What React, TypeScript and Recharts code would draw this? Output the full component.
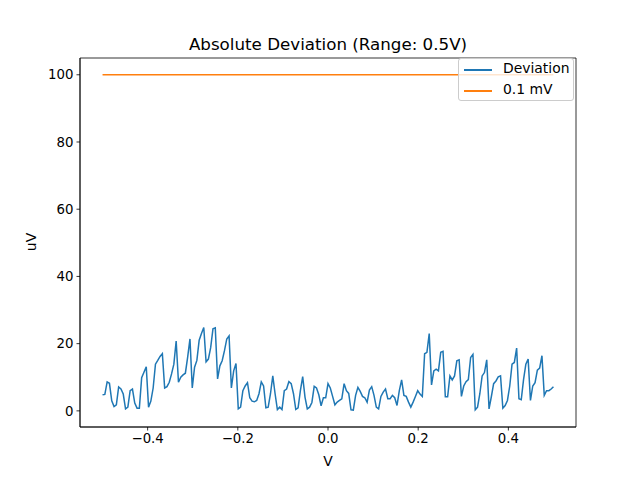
import { LineChart, Line, XAxis, YAxis, ReferenceArea } from "recharts";

document.body.style.margin = "0";

// deviation in uV, read left to right from -0.5 V to 0.5 V
const deviation = [
  4.8, 4.9, 8.6, 8.2, 3.0, 1.3, 1.8, 7.1, 6.5, 5.0,
  0.6, 1.1, 6.0, 6.5, 2.3, 0.8, 0.8, 9.9, 11.5, 13.1,
  1.1, 2.9, 6.8, 13.9, 15.0, 16.2, 17.0, 6.8, 7.2, 8.5,
  11.0, 13.9, 20.8, 8.5, 10.0, 10.7, 11.2, 16.0, 21.4, 6.8,
  13.0, 15.0, 21.0, 23.0, 24.8,
  14.6, 15.4, 18.8, 24.4, 24.7, 9.5, 13.4, 14.9, 17.9, 21.4,
  22.3, 6.8, 11.9, 14.1, 0.6, 1.1, 6.0, 7.4, 8.4, 3.9,
  2.9, 2.7, 3.1, 5.1, 8.6, 7.4, 0.9, 1.1, 5.1, 10.4,
  5.1, 0.4, 1.1, 0.4, 6.0, 6.5, 8.7, 8.1, 5.1, 0.4,
  0.9, 6.0, 10.2, 4.1, 0.6, 1.1,
  2.5, 7.3, 6.8, 4.8, 1.5, 3.9, 3.9, 8.1, 6.8, 4.3,
  1.8, 2.6, 3.1, 3.6, 8.1, 6.0, 5.2, 0.3, 0.2, 4.6,
  7.0, 5.8, 4.3, 3.9, 2.6, 6.2, 7.2, 4.6, 1.1, 0.6,
  4.3, 5.6, 6.5, 3.6, 3.6, 4.6, 3.9, 1.6, 6.0, 9.2,
  4.6, 4.3, 2.6, 1.1, 2.6, 4.3, 6.0, 5.0, 4.3, 17.0,
  17.4, 23.0, 7.7, 11.9, 12.4, 11.9, 17.4, 17.7, 4.2, 4.2,
  10.4, 9.2, 10.4, 14.9, 15.2, 4.3, 7.4, 8.7, 9.3, 15.9,
  16.8, 0.3, 1.1, 5.1, 10.4, 11.4, 15.2, 0.6, 4.2, 8.1,
  8.9, 10.1, 10.4, 0.8, 1.6, 3.1, 7.4, 13.9, 14.4, 18.7,
  3.6, 3.3, 9.3, 13.9, 15.4, 3.1, 7.4, 8.4, 12.1, 12.7,
  16.4, 4.6, 6.0, 6.0, 6.5, 7.2,
];

const vStart = -0.5;
const vEnd = 0.5;
const limit = 100; // 0.1 mV

const xTicks = [-0.4, -0.2, 0, 0.2, 0.4];
const yTicks = [0, 20, 40, 60, 80, 100];

const data = deviation.map((d, i) => ({
  v: vStart + ((vEnd - vStart) * i) / (deviation.length - 1),
  dev: d,
  lim: limit,
}));

const font = "'DejaVu Sans', sans-serif";
const tickStyle = { fill: "#000", fontSize: 13.3, fontFamily: font };
const fmt = (n: number) => n.toFixed(1).replace("-", "\u2212");

export default function App() {
  return (
    <div style={{ position: "relative", width: 640, height: 480, background: "#fff", fontFamily: font }}>
      <LineChart width={640} height={480} data={data} margin={{ top: 58, right: 64, bottom: 0, left: 0 }}>
        <XAxis
          dataKey="v"
          type="number"
          domain={[-0.55, 0.55]}
          ticks={xTicks}
          tickFormatter={fmt}
          height={53}
          tick={tickStyle}
          tickSize={3.5}
          tickMargin={3}
          stroke="#000"
          strokeWidth={0.8}
        />
        <YAxis
          type="number"
          domain={[-4.8, 104.99]}
          ticks={yTicks}
          width={80}
          tick={tickStyle}
          tickSize={3.5}
          tickMargin={3}
          stroke="#000"
          strokeWidth={0.8}
        />
        <ReferenceArea x1={-0.55} x2={0.55} y1={-4.8} y2={104.99} fill="none" stroke="#000" strokeWidth={0.8} />
        <Line dataKey="dev" stroke="#1f77b4" strokeWidth={1.5} dot={false} isAnimationActive={false} />
        <Line dataKey="lim" stroke="#ff7f0e" strokeWidth={1.5} dot={false} isAnimationActive={false} />
      </LineChart>

      <div style={{ position: "absolute", left: 0, width: 656, top: 34, textAlign: "center", fontSize: 16.7 }}>
        Absolute Deviation (Range: 0.5V)
      </div>
      <div style={{ position: "absolute", left: 0, width: 656, top: 453, textAlign: "center", fontSize: 13.9 }}>
        V
      </div>
      <div
        style={{
          position: "absolute",
          left: 31,
          top: 242,
          fontSize: 13.9,
          transform: "translate(-50%, -50%) rotate(-90deg)",
        }}
      >
        uV
      </div>

      <div
        style={{
          position: "absolute",
          left: 458,
          top: 58,
          width: 116,
          height: 43,
          boxSizing: "border-box",
          background: "rgba(255,255,255,0.8)",
          border: "1px solid #cccccc",
          borderRadius: 3,
          fontSize: 13.9,
        }}
      >
        <div style={{ position: "absolute", left: 5, top: 10, width: 28, height: 1.5, background: "#1f77b4" }} />
        <div style={{ position: "absolute", left: 44, top: 1 }}>Deviation</div>
        <div style={{ position: "absolute", left: 5, top: 31, width: 28, height: 1.5, background: "#ff7f0e" }} />
        <div style={{ position: "absolute", left: 44, top: 22 }}>0.1 mV</div>
      </div>
    </div>
  );
}
